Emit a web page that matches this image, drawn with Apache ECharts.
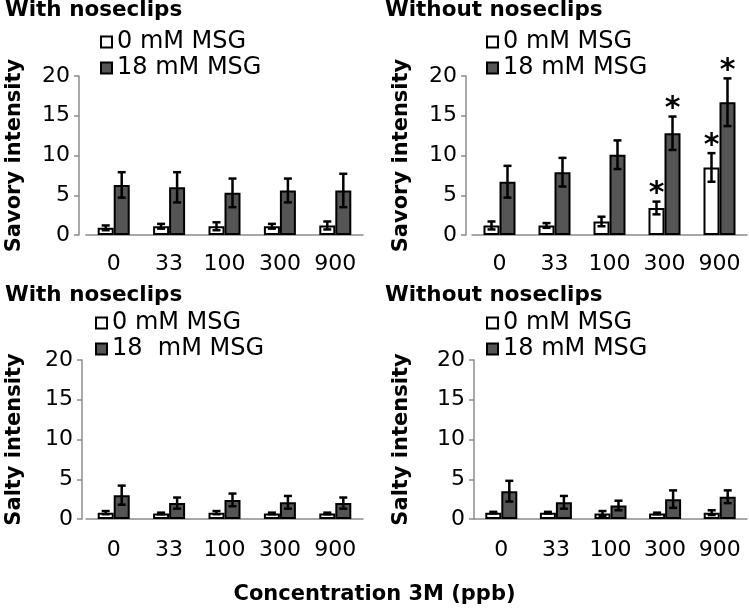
<!DOCTYPE html>
<html>
<head>
<meta charset="utf-8">
<title>Savory and salty intensity</title>
<script src="https://cdn.jsdelivr.net/npm/echarts@6/dist/echarts.min.js"></script>
<style>
	html, body { margin: 0; padding: 0; background: #fff; }
	#chart { width: 749px; height: 612px; }
</style>
</head>
<body>
<div id="chart"></div>
<script>
// categories (3M concentration, ppb)
var categories = ['0', '33', '100', '300', '900'];
var yMin = 0, yMax = 20, yStep = 5;

// savory, with noseclips
var savoryWith0 = [0.9, 1.1, 1.1, 1.1, 1.2];
var savoryWith0Err = [0.3, 0.3, 0.5, 0.3, 0.5];
var savoryWith18 = [6.3, 6.0, 5.3, 5.6, 5.6];
var savoryWith18Err = [1.6, 1.9, 1.8, 1.5, 2.1];

// savory, without noseclips
var savoryWithout0 = [1.2, 1.2, 1.7, 3.4, 8.5];
var savoryWithout0Err = [0.5, 0.3, 0.6, 0.8, 1.8];
var savoryWithout18 = [6.7, 7.9, 10.1, 12.8, 16.7];
var savoryWithout18Err = [2.0, 1.8, 1.8, 2.1, 3.0];
var savoryWithout0Sig = [0, 0, 0, 1, 1];
var savoryWithout18Sig = [0, 0, 0, 1, 1];

// salty, with noseclips
var saltyWith0 = [0.8, 0.7, 0.8, 0.7, 0.7];
var saltyWith0Err = [0.2, 0.1, 0.2, 0.1, 0.1];
var saltyWith18 = [3.0, 2.0, 2.4, 2.1, 2.0];
var saltyWith18Err = [1.2, 0.7, 0.8, 0.8, 0.7];

// salty, without noseclips
var saltyWithout0 = [0.8, 0.8, 0.7, 0.7, 0.8];
var saltyWithout0Err = [0.1, 0.1, 0.3, 0.1, 0.3];
var saltyWithout18 = [3.5, 2.1, 1.7, 2.5, 2.8];
var saltyWithout18Err = [1.3, 0.8, 0.6, 1.1, 0.8];

var FONT = 'DejaVu Sans';
var GREY = '#8c8c8c';
var BAR_W = 16;

var panels = [
	{ left: 86, top: 76, width: 277, yOffset: 7, nameGap: 54, title: 'With noseclips', tLeft: 5, tTop: -1,
	  legLeft: 100, legTop: 30, yName: 'Savory intensity', lo: '0 mM MSG', hi: '18 mM MSG',
	  d0: savoryWith0, e0: savoryWith0Err, d18: savoryWith18, e18: savoryWith18Err },
	{ left: 472, top: 76, width: 275, yOffset: 6, nameGap: 54, title: 'Without noseclips', tLeft: 385, tTop: -1,
	  legLeft: 486, legTop: 30, yName: 'Savory intensity', lo: '0 mM MSG', hi: '18 mM MSG',
	  d0: savoryWithout0, e0: savoryWithout0Err, d18: savoryWithout18, e18: savoryWithout18Err,
	  s0: savoryWithout0Sig, s18: savoryWithout18Sig },
	{ left: 86, top: 360, width: 277, yOffset: 4, nameGap: 57, title: 'With noseclips', tLeft: 5, tTop: 284,
	  legLeft: 95, legTop: 311, yName: 'Salty intensity', lo: '0 mM MSG', hi: '18  mM MSG',
	  d0: saltyWith0, e0: saltyWith0Err, d18: saltyWith18, e18: saltyWith18Err },
	{ left: 474, top: 360, width: 273, yOffset: 0, nameGap: 62, title: 'Without noseclips', tLeft: 385, tTop: 284,
	  legLeft: 486, legTop: 311, yName: 'Salty intensity', lo: '0 mM MSG', hi: '18 mM MSG',
	  d0: saltyWithout0, e0: saltyWithout0Err, d18: saltyWithout18, e18: saltyWithout18Err }
];

// 误差线 + 显著性星号
function errorBar(offset) {
	return function (params, api) {
		var i = api.value(0), v = api.value(1), e = api.value(2), sig = api.value(3);
		var top = api.coord([i, v + e]);
		var bot = api.coord([i, Math.max(0, v - e)]);
		var x = top[0] + offset;
		var cap = 4;
		var st = { stroke: '#000', lineWidth: 2.5 };
		var children = [
			{ type: 'line', shape: { x1: x, y1: top[1], x2: x, y2: bot[1] }, style: st },
			{ type: 'line', shape: { x1: x - cap, y1: top[1], x2: x + cap, y2: top[1] }, style: st },
			{ type: 'line', shape: { x1: x - cap, y1: bot[1], x2: x + cap, y2: bot[1] }, style: st }
		];
		if (sig) {
			children.push({
				type: 'text',
				style: { text: '*', x: x, y: top[1] + 8, align: 'center', verticalAlign: 'bottom',
					font: 'bold 30px "DejaVu Sans"', fill: '#000' }
			});
		}
		return { type: 'group', children: children };
	};
}

function errData(d, e, s) {
	return categories.map(function (c, i) { return [i, d[i], e[i], s ? s[i] : 0]; });
}

var grids = [], xAxes = [], yAxes = [], series = [], legends = [], titles = [];

panels.forEach(function (p, k) {
	grids.push({ left: p.left, top: p.top, width: p.width, height: 159 });
	xAxes.push({
		type: 'category', gridIndex: k, data: categories,
		axisLine: { lineStyle: { color: GREY, width: 1.5 } },
		axisTick: { show: false },
		axisLabel: { color: '#000', fontFamily: FONT, fontSize: 22, margin: k < 2 ? 18 : 20 }
	});
	yAxes.push({
		type: 'value', gridIndex: k, min: yMin, max: yMax, interval: yStep, offset: p.yOffset,
		name: p.yName, nameLocation: 'middle', nameGap: p.nameGap,
		nameTextStyle: { color: '#000', fontFamily: FONT, fontWeight: 'bold', fontSize: 21 },
		axisLine: { show: true, lineStyle: { color: GREY, width: 1.5 } },
		axisTick: { show: true, length: 5, lineStyle: { color: GREY, width: 1.5 } },
		splitLine: { show: false },
		axisLabel: { color: '#000', fontFamily: FONT, fontSize: 22, margin: 9 }
	});
	series.push({
		type: 'bar', name: p.lo, xAxisIndex: k, yAxisIndex: k, data: p.d0,
		barWidth: BAR_W, barGap: '0%',
		itemStyle: { color: '#fff', borderColor: '#000', borderWidth: 2 }
	});
	series.push({
		type: 'bar', name: p.hi, xAxisIndex: k, yAxisIndex: k, data: p.d18,
		barWidth: BAR_W, barGap: '0%',
		itemStyle: { color: '#555555', borderColor: '#000', borderWidth: 2 }
	});
	series.push({
		type: 'custom', xAxisIndex: k, yAxisIndex: k, z: 5, renderItem: errorBar(-BAR_W / 2),
		encode: { x: 0, y: 1 }, data: errData(p.d0, p.e0, p.s0)
	});
	series.push({
		type: 'custom', xAxisIndex: k, yAxisIndex: k, z: 5, renderItem: errorBar(BAR_W / 2),
		encode: { x: 0, y: 1 }, data: errData(p.d18, p.e18, p.s18)
	});
	legends.push({
		left: p.legLeft, top: p.legTop, orient: 'vertical', padding: 0, itemGap: 2,
		itemWidth: 11, itemHeight: 11, icon: 'rect', selectedMode: false,
		textStyle: { color: '#000', fontFamily: FONT, fontSize: 24, lineHeight: 24 },
		data: [p.lo, p.hi]
	});
	titles.push({
		text: p.title, left: p.tLeft, top: p.tTop, padding: 0,
		textStyle: { color: '#000', fontFamily: FONT, fontWeight: 'bold', fontSize: 21.5 }
	});
});

titles.push({
	text: 'Concentration 3M (ppb)', left: 'center', top: 584, padding: 0,
	textStyle: { color: '#000', fontFamily: FONT, fontWeight: 'bold', fontSize: 21 }
});

var chart = echarts.init(document.getElementById('chart'));
chart.setOption({
	animation: false,
	backgroundColor: '#fff',
	title: titles,
	legend: legends,
	grid: grids,
	xAxis: xAxes,
	yAxis: yAxes,
	series: series
});
</script>
</body>
</html>
